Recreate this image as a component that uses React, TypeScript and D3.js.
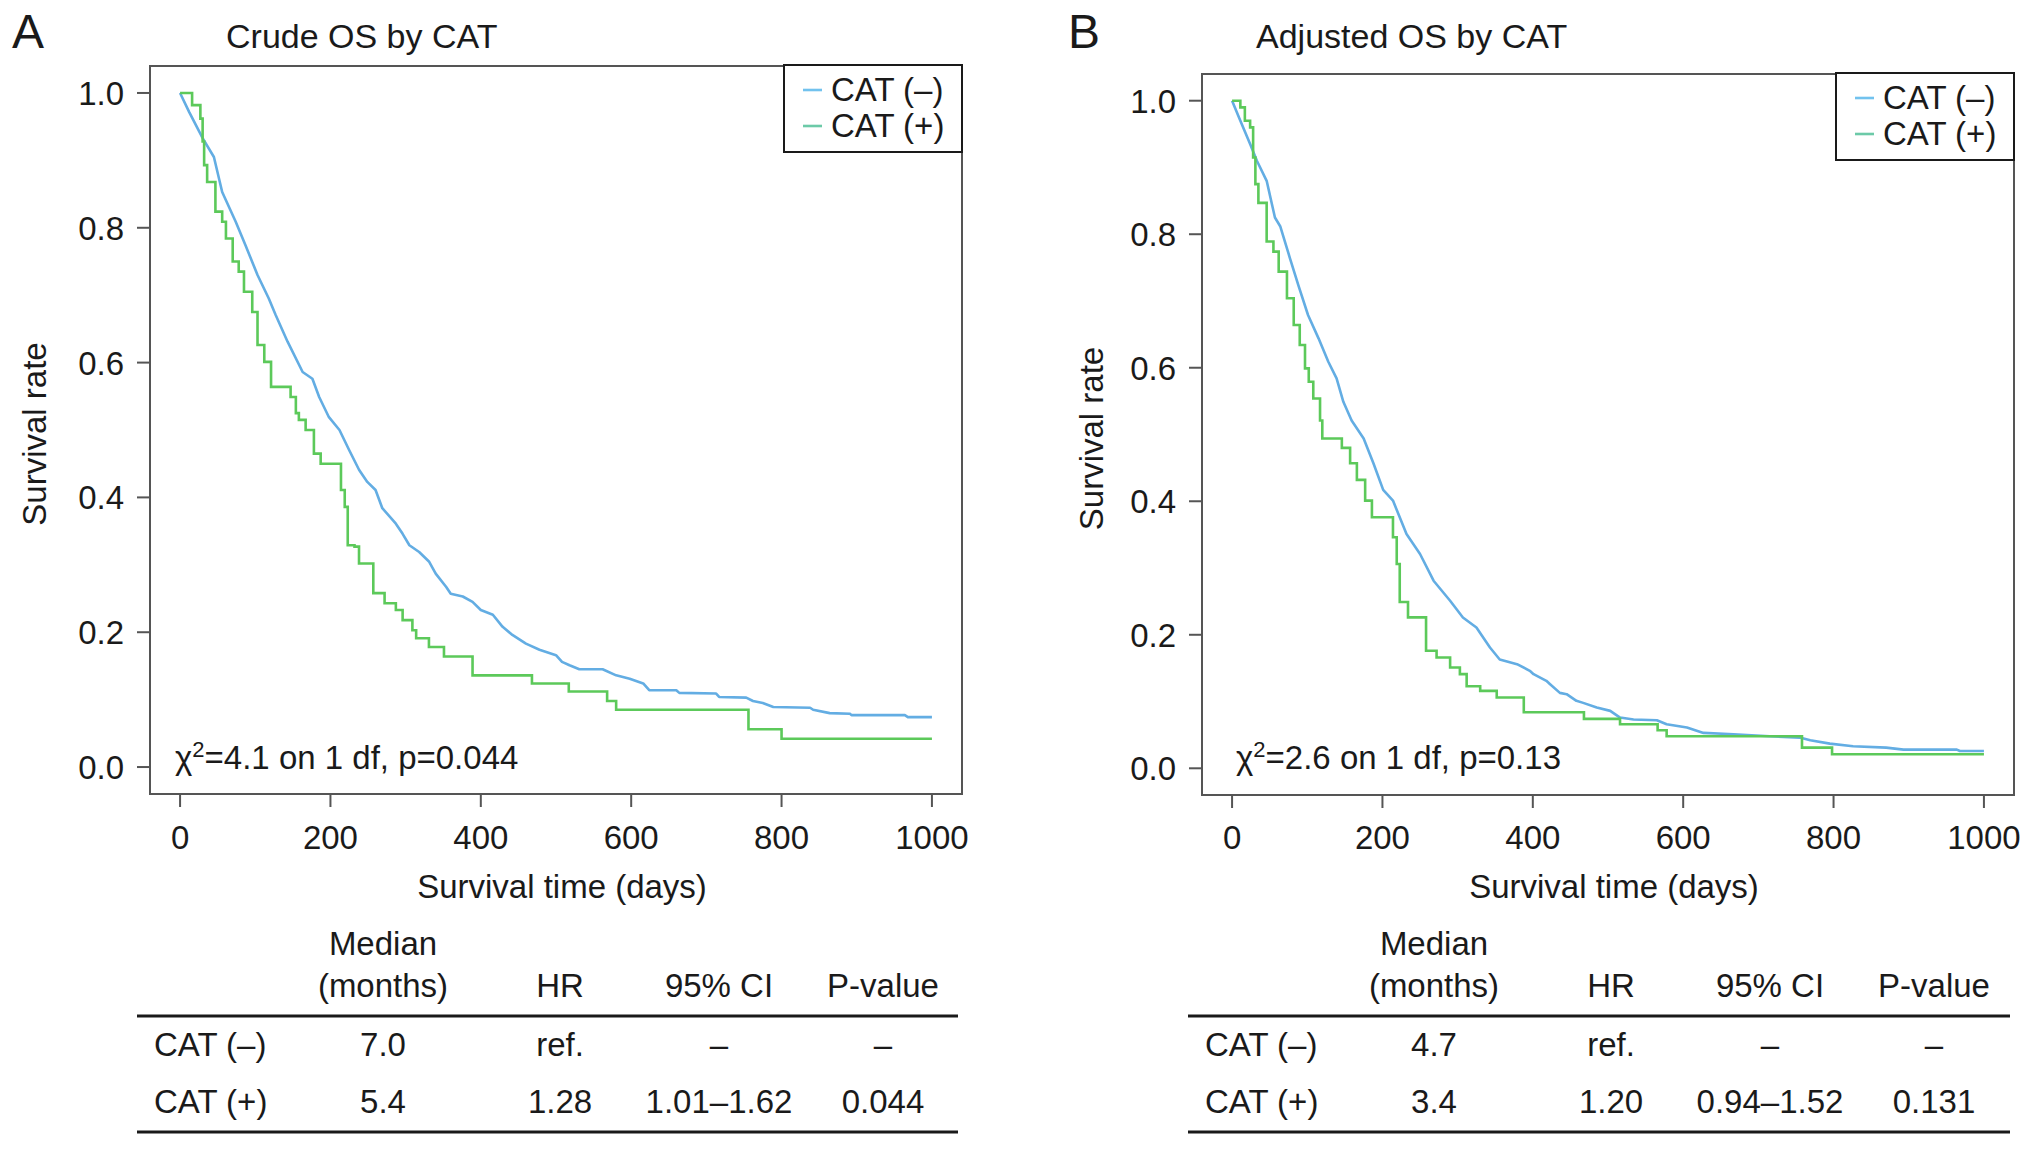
import React from "react";
import * as d3 from "d3";

type Pt = [number, number];

// Kaplan-Meier points: [day, survival]
const crudeNeg: Pt[] = [
  [0, 1], [12, 0.972], [30, 0.933], [45, 0.905], [56, 0.853], [74, 0.809], [87, 0.774],
  [103, 0.73], [118, 0.695], [127, 0.671], [143, 0.631], [163, 0.586], [176, 0.576],
  [185, 0.549], [198, 0.519], [212, 0.5], [225, 0.47], [238, 0.441], [249, 0.423],
  [260, 0.411], [269, 0.384], [287, 0.361], [296, 0.346], [305, 0.329], [318, 0.319],
  [331, 0.305], [340, 0.287], [354, 0.267], [360, 0.257], [376, 0.253], [389, 0.245],
  [400, 0.233], [416, 0.226], [429, 0.208], [442, 0.196], [460, 0.183], [478, 0.174],
  [500, 0.166], [508, 0.156], [518, 0.151], [531, 0.145], [562, 0.145], [580, 0.136],
  [598, 0.131], [616, 0.124], [624, 0.114], [660, 0.114], [664, 0.11], [713, 0.109],
  [717, 0.104], [753, 0.103], [762, 0.098], [775, 0.095], [789, 0.089], [838, 0.088],
  [842, 0.085], [864, 0.08], [891, 0.079], [893, 0.077], [964, 0.077], [968, 0.074],
  [1000, 0.074],
];
const crudePos: Pt[] = [
  [0, 1], [16, 0.982], [27, 0.962], [30, 0.928], [32, 0.893], [36, 0.868], [47, 0.824],
  [56, 0.809], [61, 0.784], [70, 0.75], [78, 0.735], [85, 0.705], [96, 0.675], [103, 0.626],
  [112, 0.601], [121, 0.564], [147, 0.549], [154, 0.525], [158, 0.515], [167, 0.5],
  [178, 0.465], [187, 0.45], [214, 0.411], [219, 0.386], [223, 0.329], [232, 0.327],
  [238, 0.302], [257, 0.258], [272, 0.243], [287, 0.233], [296, 0.218], [309, 0.203],
  [314, 0.191], [331, 0.178], [351, 0.164], [389, 0.136], [468, 0.124], [517, 0.112],
  [568, 0.098], [580, 0.085], [756, 0.056], [800, 0.042], [1000, 0.042],
];
const adjNeg: Pt[] = [
  [0, 1], [11, 0.97], [24, 0.935], [33, 0.91], [46, 0.88], [57, 0.825], [64, 0.812],
  [77, 0.764], [88, 0.724], [101, 0.679], [115, 0.644], [128, 0.609], [139, 0.584],
  [148, 0.549], [159, 0.521], [175, 0.494], [188, 0.457], [201, 0.417], [214, 0.401],
  [232, 0.351], [250, 0.321], [268, 0.281], [290, 0.251], [307, 0.226], [325, 0.211],
  [343, 0.181], [356, 0.163], [379, 0.156], [396, 0.146], [401, 0.141], [418, 0.131],
  [423, 0.126], [436, 0.113], [445, 0.111], [458, 0.101], [467, 0.098], [485, 0.091],
  [503, 0.086], [516, 0.076], [534, 0.073], [565, 0.072], [578, 0.066], [605, 0.061],
  [627, 0.053], [667, 0.051], [715, 0.048], [755, 0.046], [769, 0.042], [795, 0.037],
  [826, 0.033], [870, 0.031], [893, 0.028], [964, 0.028], [968, 0.026], [1000, 0.026],
];
const adjPos: Pt[] = [
  [0, 1], [11, 0.99], [17, 0.97], [24, 0.96], [28, 0.915], [31, 0.875], [35, 0.847],
  [46, 0.789], [55, 0.774], [62, 0.744], [73, 0.704], [82, 0.664], [90, 0.634], [97, 0.599],
  [102, 0.579], [108, 0.554], [117, 0.521], [120, 0.494], [146, 0.48], [157, 0.457],
  [166, 0.432], [177, 0.401], [186, 0.376], [214, 0.346], [219, 0.306], [223, 0.249],
  [234, 0.226], [258, 0.176], [272, 0.166], [290, 0.151], [303, 0.141], [312, 0.123],
  [330, 0.116], [352, 0.106], [388, 0.084], [468, 0.074], [516, 0.066], [566, 0.057],
  [578, 0.048], [758, 0.031], [798, 0.021], [1000, 0.021],
];

const xTicks = [0, 200, 400, 600, 800, 1000];
const yTicks = [0, 0.2, 0.4, 0.6, 0.8, 1.0];
const groups = ["CAT (\u2013)", "CAT (+)"];
const headerTop = ["Median", "", "", ""];
const headerBottom = ["(months)", "HR", "95% CI", "P-value"];

const crudeMedian = ["7.0", "5.4"];
const crudeHR = ["ref.", "1.28"];
const crudeCI = ["\u2013", "1.01\u20131.62"];
const crudeP = ["\u2013", "0.044"];
const crudeTest = ["4.1", "1", "0.044"];

const adjMedian = ["4.7", "3.4"];
const adjHR = ["ref.", "1.20"];
const adjCI = ["\u2013", "0.94\u20131.52"];
const adjP = ["\u2013", "0.131"];
const adjTest = ["2.6", "1", "0.13"];

const FONT = '"Liberation Sans", Arial, Helvetica, sans-serif';
const FS = 33;
const INK = "#1a1a1a";
const BLUE = "#63ade3";
const GREEN = "#5cc95a";
const LEG_BLUE = "#72c2ee";
const LEG_GREEN = "#6ccaa8";

interface Layout {
  box: { x0: number; x1: number; y0: number; y1: number };
  letterX: number;
  titleX: number;
  ylabX: number;
  chiX: number;
  tableX0: number;
  tableX1: number;
}

interface PanelProps {
  letter: string;
  title: string;
  neg: Pt[];
  pos: Pt[];
  test: string[];
  median: string[];
  hr: string[];
  ci: string[];
  p: string[];
  L: Layout;
}

const Panel: React.FC<PanelProps> = ({ letter, title, neg, pos, test, median, hr, ci, p, L }) => {
  const { box } = L;
  const x = d3.scaleLinear().domain([-40, 1040]).range([box.x0, box.x1]);
  const y = d3.scaleLinear().domain([-0.04, 1.04]).range([box.y1, box.y0]);
  // the large CAT(-) group has very fine steps, so its read points are joined directly
  const fineLine = d3
    .line<Pt>()
    .x((d) => x(d[0]))
    .y((d) => y(d[1]));
  const stepLine = d3
    .line<Pt>()
    .x((d) => x(d[0]))
    .y((d) => y(d[1]))
    .curve(d3.curveStepAfter);

  const legW = 178;
  const legH = 87;
  const legX = box.x1 - legW;
  const legY = box.y0 - 1;

  const colOff = [246, 423, 582, 746];
  const cols = [median, hr, ci, p];
  const rowY = [1056, 1113];

  return (
    <g fontFamily={FONT} fill={INK}>
      <text x={L.letterX} y={48} fontSize={48}>{letter}</text>
      <text x={L.titleX} y={48} fontSize={34}>{title}</text>

      {/* curves */}
      <path d={fineLine(neg) ?? ""} fill="none" stroke={BLUE} strokeWidth={2.6} strokeLinejoin="round" />
      <path d={stepLine(pos) ?? ""} fill="none" stroke={GREEN} strokeWidth={2.6} />

      {/* box */}
      <rect
        x={box.x0}
        y={box.y0}
        width={box.x1 - box.x0}
        height={box.y1 - box.y0}
        fill="none"
        stroke="#555"
        strokeWidth={2}
      />

      {/* y axis */}
      {yTicks.map((t) => (
        <g key={"y" + t}>
          <line x1={box.x0 - 13} x2={box.x0} y1={y(t)} y2={y(t)} stroke="#555" strokeWidth={2} />
          <text x={box.x0 - 26} y={y(t) + 12} fontSize={FS} textAnchor="end">
            {t.toFixed(1)}
          </text>
        </g>
      ))}
      <text
        transform={`translate(${L.ylabX},${(box.y0 + box.y1) / 2 + 4}) rotate(-90)`}
        fontSize={FS}
        textAnchor="middle"
      >
        Survival rate
      </text>

      {/* x axis */}
      {xTicks.map((t) => (
        <g key={"x" + t}>
          <line x1={x(t)} x2={x(t)} y1={box.y1} y2={box.y1 + 13} stroke="#555" strokeWidth={2} />
          <text x={x(t)} y={849} fontSize={FS} textAnchor="middle">
            {t}
          </text>
        </g>
      ))}
      <text x={(box.x0 + box.x1) / 2 + 6} y={898} fontSize={FS} textAnchor="middle">
        Survival time (days)
      </text>

      {/* log-rank text */}
      <text x={L.chiX} y={769} fontSize={FS}>
        <tspan>χ</tspan>
        <tspan dy={-12} fontSize={22}>2</tspan>
        <tspan dy={12}>{`=${test[0]} on ${test[1]} df, p=${test[2]}`}</tspan>
      </text>

      {/* legend */}
      <rect x={legX} y={legY} width={legW} height={legH} fill="#fff" stroke={INK} strokeWidth={2} />
      {groups.map((g, i) => (
        <g key={g}>
          <line
            x1={legX + 19}
            x2={legX + 38}
            y1={legY + 25 + i * 36}
            y2={legY + 25 + i * 36}
            stroke={i === 0 ? LEG_BLUE : LEG_GREEN}
            strokeWidth={2.6}
          />
          <text x={legX + 47} y={legY + 36 + i * 36} fontSize={FS}>
            {g}
          </text>
        </g>
      ))}

      {/* table */}
      {headerTop.map((h, j) =>
        h ? (
          <text key={"ht" + j} x={L.tableX0 + colOff[j]} y={955} fontSize={FS} textAnchor="middle">
            {h}
          </text>
        ) : null
      )}
      {headerBottom.map((h, j) => (
        <text key={"hb" + j} x={L.tableX0 + colOff[j]} y={997} fontSize={FS} textAnchor="middle">
          {h}
        </text>
      ))}
      <line x1={L.tableX0} x2={L.tableX1} y1={1016} y2={1016} stroke={INK} strokeWidth={3} />
      {groups.map((g, i) => (
        <g key={"r" + i}>
          <text x={L.tableX0 + 17} y={rowY[i]} fontSize={FS}>
            {g}
          </text>
          {cols.map((c, j) => (
            <text key={j} x={L.tableX0 + colOff[j]} y={rowY[i]} fontSize={FS} textAnchor="middle">
              {c[i]}
            </text>
          ))}
        </g>
      ))}
      <line x1={L.tableX0} x2={L.tableX1} y1={1132} y2={1132} stroke={INK} strokeWidth={3} />
    </g>
  );
};

const layoutA: Layout = {
  box: { x0: 150, x1: 962, y0: 66, y1: 794 },
  letterX: 12,
  titleX: 226,
  ylabX: 46,
  chiX: 175,
  tableX0: 137,
  tableX1: 958,
};
const layoutB: Layout = {
  box: { x0: 1202, x1: 2014, y0: 74, y1: 795 },
  letterX: 1068,
  titleX: 1256,
  ylabX: 1103,
  chiX: 1236,
  tableX0: 1188,
  tableX1: 2010,
};

export default function App() {
  return (
    <svg
      width={2032}
      height={1150}
      style={{ position: "absolute", left: 0, top: 0, background: "#fff" }}
    >
      <Panel
        letter="A"
        title="Crude OS by CAT"
        neg={crudeNeg}
        pos={crudePos}
        test={crudeTest}
        median={crudeMedian}
        hr={crudeHR}
        ci={crudeCI}
        p={crudeP}
        L={layoutA}
      />
      <Panel
        letter="B"
        title="Adjusted OS by CAT"
        neg={adjNeg}
        pos={adjPos}
        test={adjTest}
        median={adjMedian}
        hr={adjHR}
        ci={adjCI}
        p={adjP}
        L={layoutB}
      />
    </svg>
  );
}
